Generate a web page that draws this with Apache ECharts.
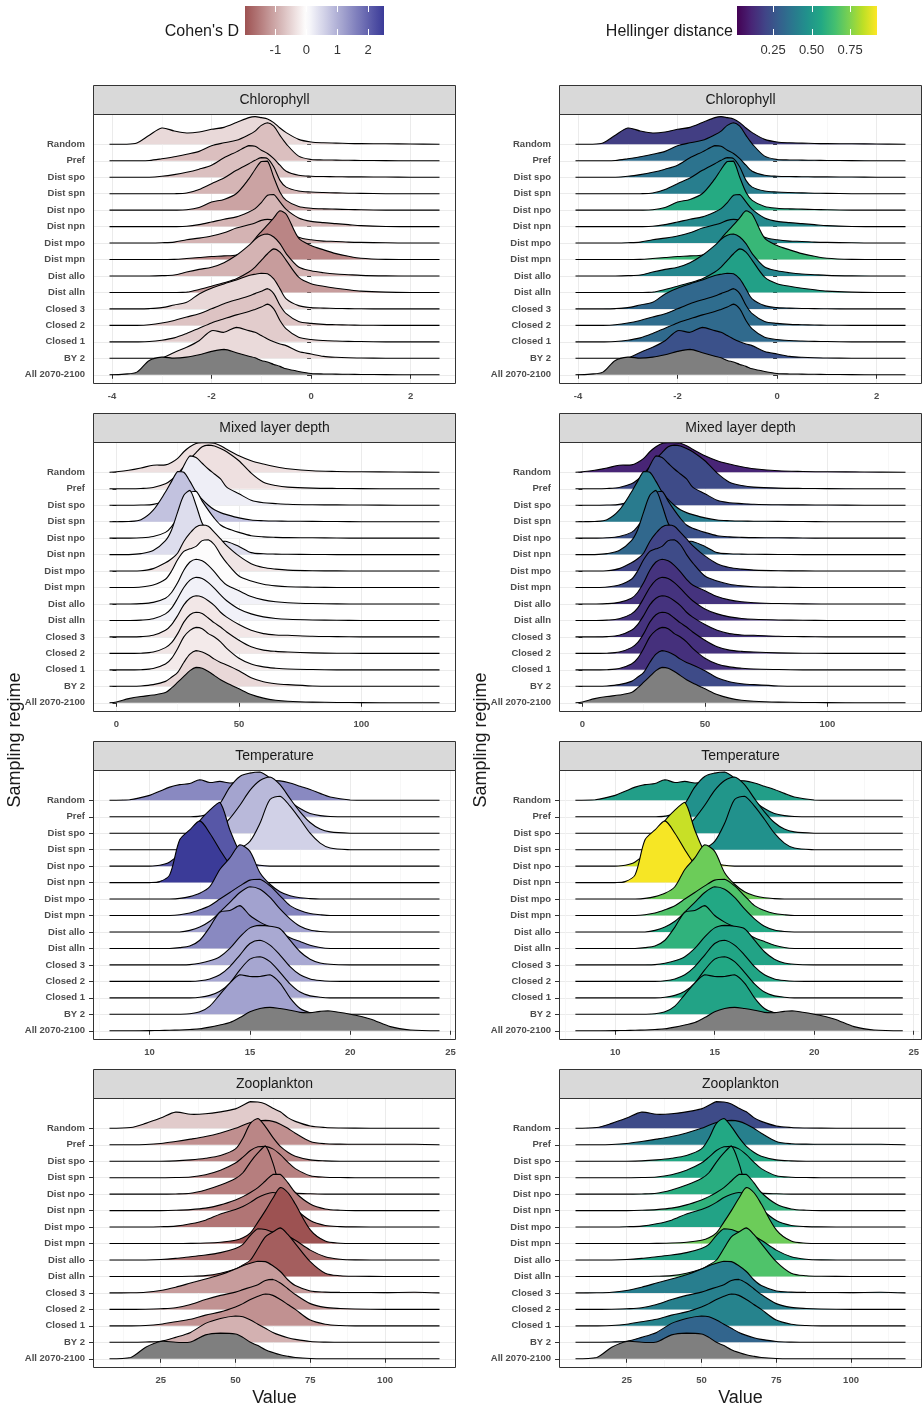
<!DOCTYPE html>
<html><head><meta charset="utf-8">
<script src="https://cdn.jsdelivr.net/npm/echarts@6/dist/echarts.min.js"></script>
<style>html,body{margin:0;padding:0;background:#fff}#c{width:922px;height:1412px}</style>
</head><body><div id="c"></div>
<script>
// ---------------- DATA ----------------
const regimes = ["Random","Pref","Dist spo","Dist spn","Dist npo","Dist npn","Dist mpo","Dist mpn","Dist allo","Dist alln","Closed 3","Closed 2","Closed 1","BY 2","All 2070-2100"];
const variables = ["Chlorophyll","Mixed layer depth","Temperature","Zooplankton"];

// Chlorophyll: x grid and ridge heights (in row units), one row per regime
const chlX = [-4.05,-3.75,-3.5,-3.25,-3.0,-2.75,-2.5,-2.25,-2.0,-1.75,-1.5,-1.25,-1.125,-1.0,-0.875,-0.75,-0.625,-0.5,-0.25,0,0.25,0.5,0.75,1.0,1.5,2.0,2.58];
const chlDensity = [
 [0,0,0.08,0.55,0.99,0.81,0.69,0.75,0.91,1.03,1.32,1.62,1.68,1.62,1.54,1.32,0.99,0.71,0.3,0.14,0.09,0.07,0.05,0.04,0.03,0.02,0],
 [0,0,0,0.02,0.12,0.24,0.4,0.57,0.91,1.09,1.24,1.58,1.8,2.15,2.31,2.1,1.54,1.03,0.28,0.08,0.05,0.04,0.03,0.02,0.01,0,0],
 [0,0,0,0,0.06,0.16,0.3,0.49,0.73,1.18,1.54,1.92,1.88,1.64,1.44,1.13,0.73,0.36,0.12,0.06,0.04,0.03,0.02,0.02,0.01,0,0],
 [0,0,0,0,0,0,0.04,0.26,0.61,0.95,1.42,1.82,2.03,2.19,2.13,1.62,0.81,0.4,0.16,0.1,0.07,0.05,0.03,0.02,0,0,0],
 [0,0,0,0,0,0,0.02,0.16,0.49,0.65,1.01,1.9,2.47,2.96,2.98,2.0,1.09,0.59,0.22,0.12,0.08,0.06,0.04,0.02,0,0,0],
 [0,0,0,0,0,0,0.02,0.12,0.28,0.45,0.59,0.89,1.09,1.46,1.9,1.95,1.5,1.05,0.53,0.32,0.24,0.18,0.12,0.06,0.01,0,0],
 [0,0,0,0,0.02,0.06,0.2,0.3,0.43,0.63,0.91,1.11,1.22,1.38,1.44,1.38,1.18,0.87,0.36,0.2,0.12,0.1,0.06,0.04,0.02,0,0],
 [0,0,0,0,0,0.01,0.06,0.12,0.18,0.22,0.28,0.65,1.26,1.7,2.1,2.53,2.96,2.75,1.3,0.85,0.59,0.36,0.2,0.08,0.01,0,0],
 [0,0,0,0,0.02,0.06,0.24,0.4,0.53,0.81,1.26,1.86,2.23,2.47,2.55,2.37,1.97,1.36,0.55,0.32,0.2,0.12,0.08,0.04,0.01,0,0],
 [0,0,0,0,0,0,0.02,0.18,0.38,0.59,0.83,1.24,1.54,1.95,2.35,2.65,2.45,1.95,0.93,0.53,0.38,0.26,0.16,0.08,0.02,0,0],
 [0,0,0,0.02,0.08,0.24,0.4,0.91,1.26,1.52,1.76,2.03,2.11,2.17,2.13,1.82,1.22,0.61,0.2,0.08,0.05,0.03,0.02,0.01,0,0,0],
 [0,0,0,0.04,0.14,0.3,0.51,0.71,1.01,1.32,1.56,1.78,1.93,2.07,2.23,1.93,1.22,0.71,0.24,0.12,0.06,0.04,0.02,0.01,0,0,0],
 [0,0,0,0.02,0.1,0.24,0.51,0.83,1.15,1.4,1.64,1.84,1.97,2.11,2.29,2.0,1.3,0.79,0.28,0.14,0.08,0.05,0.03,0.02,0,0,0],
 [0,0,0,0,0.02,0.36,0.67,1.07,1.68,1.58,1.88,1.68,1.58,1.38,1.18,1.01,0.87,0.77,0.41,0.26,0.12,0.06,0.03,0.02,0,0,0],
 [0,0.04,0.16,0.87,1.07,1.01,1.07,1.22,1.42,1.54,1.34,1.13,1.03,0.87,0.77,0.63,0.51,0.36,0.2,0.08,0.05,0.04,0.03,0.02,0.01,0,0]
];

// Mixed layer depth
const mldX = [-2.85,0,5,10,15,20,22.5,25,27.5,30,32.5,35,37.5,40,42.5,45,50,55,60,65,70,80,90,100,115,131.9];
const mldDensity = [
 [0,0.03,0.12,0.26,0.43,0.45,0.6,0.85,1.25,1.55,1.75,1.8,1.8,1.76,1.62,1.4,1.0,0.7,0.5,0.34,0.22,0.09,0.05,0.03,0.02,0],
 [0,0,0,0.02,0.08,0.3,0.55,0.9,1.35,1.8,2.2,2.55,2.65,2.6,2.45,2.25,1.7,0.95,0.4,0.2,0.1,0.04,0.02,0.01,0,0],
 [0,0,0,0.01,0.05,0.3,0.8,1.6,2.4,3.0,2.9,2.55,2.2,1.9,1.6,1.1,0.7,0.3,0.15,0.1,0.06,0.03,0.02,0.01,0,0],
 [0,0,0.01,0.12,0.7,1.8,2.45,3.05,3.0,2.45,1.8,1.35,1.0,0.72,0.55,0.43,0.23,0.1,0.06,0.04,0.03,0.02,0.01,0,0,0],
 [0,0,0,0.02,0.1,0.35,0.7,1.3,2.1,2.75,2.85,2.25,1.7,1.2,0.8,0.6,0.35,0.15,0.08,0.05,0.03,0.02,0.01,0,0,0],
 [0,0,0,0.06,0.25,0.85,1.5,2.6,3.6,3.9,3.0,1.9,1.3,0.95,0.8,0.8,0.5,0.12,0.05,0.03,0.02,0.01,0,0,0,0],
 [0,0,0,0.02,0.15,0.5,0.75,1.1,1.8,2.3,2.68,2.8,2.72,2.35,1.95,1.55,0.92,0.45,0.22,0.12,0.06,0.02,0.01,0,0,0],
 [0,0,0,0.03,0.15,0.5,1.0,1.7,2.2,2.35,2.5,2.85,2.9,2.6,2.0,1.5,0.7,0.4,0.2,0.1,0.05,0.02,0,0,0,0],
 [0,0,0,0.02,0.1,0.35,0.7,1.3,2.05,2.55,2.72,2.62,2.35,1.95,1.5,1.15,0.8,0.45,0.25,0.14,0.08,0.03,0.01,0,0,0],
 [0,0,0,0.02,0.1,0.4,0.75,1.35,2.0,2.45,2.62,2.55,2.3,1.95,1.55,1.2,0.7,0.4,0.22,0.12,0.07,0.03,0.01,0,0,0],
 [0,0,0,0.02,0.1,0.4,0.75,1.3,1.95,2.35,2.5,2.42,2.2,1.9,1.5,1.2,0.75,0.4,0.2,0.12,0.1,0.04,0.02,0,0,0],
 [0,0,0,0.01,0.08,0.35,0.65,1.2,1.9,2.35,2.5,2.42,2.15,1.85,1.6,1.3,0.8,0.4,0.2,0.12,0.08,0.03,0.01,0,0,0],
 [0,0,0,0.01,0.08,0.35,0.7,1.3,2.0,2.4,2.58,2.5,2.2,2.0,1.7,1.3,0.7,0.35,0.18,0.1,0.05,0.02,0,0,0,0],
 [0,0,0,0.02,0.1,0.3,0.55,0.85,1.45,1.95,2.17,2.08,1.9,1.65,1.45,1.3,0.95,0.52,0.28,0.16,0.1,0.02,0,0,0,0],
 [0,0.05,0.25,0.38,0.47,0.62,0.9,1.25,1.6,1.95,2.15,2.1,1.9,1.65,1.4,1.2,0.85,0.5,0.28,0.15,0.09,0.04,0.02,0.01,0,0]
];

// Temperature
const tempX = [8.0,9,10,10.5,11,11.5,12,12.5,13,13.5,14,14.5,15,15.5,16,16.5,17,17.5,18,18.5,19,20,21,22,23,24.45];
const tempDensity = [
 [0,0.03,0.3,0.55,0.8,0.95,1.02,1.25,1.08,1.15,1.05,1.1,1.15,1.2,1.2,1.18,1.05,0.85,0.65,0.42,0.2,0.02,0,0,0,0],
 [0,0,0,0,0,0,0,0.04,0.2,0.8,1.8,2.45,2.65,2.72,2.35,1.75,0.95,0.5,0.2,0.07,0.02,0,0,0,0,0],
 [0,0,0,0,0,0,0,0,0.05,0.3,0.9,1.7,2.6,3.2,3.42,2.95,2.1,1.3,0.65,0.25,0.08,0,0,0,0,0],
 [0,0,0,0,0,0,0,0,0,0,0,0.1,0.5,1.6,3.05,3.25,2.65,1.85,1.0,0.4,0.1,0,0,0,0,0],
 [0,0,0,0.05,0.25,0.8,1.7,2.75,3.4,3.88,2.2,0.85,0.2,0.05,0,0,0,0,0,0,0,0,0,0,0,0],
 [0,0,0,0.06,0.47,2.6,3.2,3.75,3.0,2.0,1.1,0.5,0.18,0.05,0,0,0,0,0,0,0,0,0,0,0,0],
 [0,0,0,0,0,0.04,0.15,0.35,0.75,1.8,2.5,3.3,2.9,1.6,0.9,0.45,0.2,0.08,0.03,0,0,0,0,0,0,0],
 [0,0,0,0,0,0.05,0.15,0.35,0.6,1.0,1.4,1.8,2.15,2.2,1.8,1.2,0.6,0.3,0.12,0.05,0,0,0,0,0,0],
 [0,0,0,0,0,0,0.1,0.3,0.65,1.2,1.8,2.4,2.75,2.6,2.1,1.4,0.8,0.35,0.12,0.03,0,0,0,0,0,0],
 [0,0,0,0,0,0.05,0.15,0.5,1.3,2.2,2.3,2.6,2.0,1.6,1.3,1.0,0.65,0.42,0.2,0.06,0,0,0,0,0,0],
 [0,0,0,0,0,0,0.02,0.1,0.25,0.5,1.0,1.7,2.25,2.4,2.35,2.2,1.5,0.8,0.35,0.12,0.04,0,0,0,0,0],
 [0,0,0,0,0,0,0,0.04,0.15,0.4,0.9,1.6,2.3,2.5,2.2,1.6,0.9,0.4,0.15,0.05,0.01,0,0,0,0,0],
 [0,0,0,0,0,0,0,0.04,0.15,0.4,0.9,1.7,2.35,2.5,2.2,1.55,0.85,0.35,0.12,0.04,0,0,0,0,0,0],
 [0,0,0,0,0,0,0.03,0.15,0.5,1.2,1.9,2.4,2.3,2.3,2.4,1.9,1.0,0.35,0.1,0.03,0,0,0,0,0,0],
 [0,0,0.01,0.02,0.03,0.05,0.08,0.12,0.22,0.35,0.5,0.8,1.15,1.35,1.42,1.35,1.25,1.12,1.1,1.18,1.2,1.0,0.72,0.25,0.05,0]
];

// Zooplankton
const zooX = [7.9,15,20,25,30,35,40,45,50,52.5,55,57.5,60,62.5,65,67.5,70,75,80,85,90,100,110,118.2];
const zooDensity = [
 [0,0.05,0.3,0.62,0.98,0.85,0.88,1.0,1.18,1.4,1.62,1.6,1.48,1.22,1.0,0.65,0.42,0.14,0.05,0.02,0.01,0,0,0],
 [0,0,0.02,0.08,0.2,0.34,0.5,0.72,1.0,1.18,1.35,1.45,1.48,1.42,1.25,1.0,0.7,0.2,0.06,0.04,0.03,0.03,0.03,0],
 [0,0,0,0,0.02,0.08,0.18,0.35,0.75,1.4,2.3,2.6,2.1,1.45,0.9,0.55,0.3,0.08,0.02,0,0,0,0,0],
 [0,0,0,0,0.01,0.04,0.18,0.45,0.89,1.25,1.65,1.88,1.9,1.75,1.4,0.95,0.55,0.12,0.03,0.01,0,0,0,0],
 [0,0,0,0,0.01,0.05,0.25,0.55,0.95,1.3,1.95,2.5,2.92,1.9,0.45,0.15,0.06,0.02,0,0,0,0,0,0],
 [0,0,0,0,0.02,0.06,0.15,0.35,0.65,0.85,1.1,1.4,1.8,2.2,2.2,1.7,1.1,0.4,0.1,0.02,0,0,0,0],
 [0,0,0,0.02,0.06,0.2,0.42,0.8,1.07,1.25,1.5,1.8,2.0,2.1,2.0,1.6,1.1,0.4,0.1,0.03,0.01,0,0,0],
 [0,0,0,0,0,0.01,0.03,0.08,0.2,0.35,0.65,1.3,2.0,2.75,3.4,3.1,2.4,0.83,0.15,0.02,0,0,0,0],
 [0,0,0,0.03,0.1,0.2,0.3,0.45,0.7,0.95,1.5,1.9,1.85,1.7,1.6,1.45,1.2,0.6,0.2,0.05,0.01,0,0,0],
 [0,0,0,0,0,0.01,0.05,0.2,0.45,0.7,1.0,1.7,2.4,2.7,2.95,2.55,2.0,0.9,0.2,0.04,0.01,0,0,0],
 [0,0.01,0.04,0.15,0.35,0.6,0.85,1.1,1.45,1.65,1.8,1.92,1.9,1.65,1.3,0.8,0.45,0.12,0.05,0.03,0.03,0.02,0.04,0],
 [0,0,0.01,0.04,0.1,0.3,0.6,0.85,1.05,1.2,1.35,1.5,1.75,1.82,1.6,1.25,0.9,0.35,0.12,0.05,0.02,0,0,0],
 [0,0,0.02,0.1,0.25,0.4,0.65,0.85,1.15,1.35,1.6,1.8,1.93,1.85,1.6,1.3,1.0,0.35,0.1,0.02,0,0,0,0],
 [0,0,0.02,0.06,0.3,0.6,1.15,1.45,1.6,1.55,1.35,1.1,0.85,0.6,0.42,0.28,0.18,0.05,0.01,0,0,0,0,0],
 [0,0.08,0.7,1.05,1.0,1.02,1.45,1.56,1.5,1.3,1.0,0.8,0.55,0.38,0.24,0.15,0.08,0.02,0,0,0,0,0,0]
];

// Fill values per regime (null = reference distribution, drawn grey)
const chlCohen  = [-0.44,-0.73,-0.72,-0.85,-1.05,-0.85,-0.87,-1.4,-0.87,-1.13,-0.46,-0.69,-0.58,-0.42,null];
const mldCohen  = [-0.35,-0.35,0.22,0.78,0.05,0.43,-0.3,-0.04,0.17,0.18,-0.27,-0.3,-0.24,-0.45,null];
const tempCohen = [1.5,1.16,0.89,0.59,2.14,2.5,1.67,1.58,1.18,1.5,1.1,1.13,1.14,1.18,null];
const zooCohen  = [-0.6,-1.28,-1.39,-1.44,-1.48,-1.48,-1.58,-1.98,-1.63,-1.84,-1.13,-1.25,-1.26,-0.89,null];
const chlHellinger  = [0.18,0.34,0.36,0.40,0.57,0.44,0.44,0.62,0.43,0.53,0.32,0.34,0.33,0.24,null];
const mldHellinger  = [0.11,0.22,0.22,0.39,0.24,0.32,0.2,0.22,0.15,0.15,0.15,0.14,0.14,0.22,null];
const tempHellinger = [0.52,0.47,0.49,0.47,0.85,0.915,0.72,0.67,0.56,0.6,0.54,0.55,0.56,0.54,null];
const zooHellinger  = [0.22,0.41,0.56,0.56,0.58,0.6,0.54,0.72,0.54,0.67,0.4,0.41,0.42,0.31,null];

// Axis ticks and legend breaks
const chlTicks = [-4,-2,0,2];
const mldTicks = [0,50,100];
const tempTicks = [10,15,20,25];
const zooTicks = [25,50,75,100];
const cohenBreaks = [-1,0,1,2];
const cohenLimits = [-1.98, 2.51];
const hellBreaks = [0.25,0.5,0.75];
const hellLimits = [0.016, 0.925];

// ---------------- STYLE / SCALES ----------------
const FONT = '"Liberation Sans", Arial, "DejaVu Sans", sans-serif';
function hex(h){h=h.replace('#','');return [parseInt(h.slice(0,2),16),parseInt(h.slice(2,4),16),parseInt(h.slice(4,6),16)];}
function mix(a,b,t){const A=hex(a),B=hex(b);const c=A.map((v,i)=>Math.round(v+(B[i]-v)*t));return 'rgb('+c.join(',')+')';}
const COHEN_LOW='#832424', COHEN_MID='#ffffff', COHEN_HIGH='#3a3a98', COHEN_HALF=2.51;
function cohenColor(v){ if(v<0) return mix(COHEN_MID,COHEN_LOW,Math.min(1,-v/COHEN_HALF)); return mix(COHEN_MID,COHEN_HIGH,Math.min(1,v/COHEN_HALF)); }
const VIRIDIS=['#440154','#482475','#414487','#355f8d','#2a788e','#21918c','#22a884','#44bf70','#7ad151','#bddf26','#fde725'];
function viridisColor(h){ let t=(h-hellLimits[0])/(hellLimits[1]-hellLimits[0]); t=Math.max(0,Math.min(1,t)); const p=t*(VIRIDIS.length-1); const i=Math.min(VIRIDIS.length-2,Math.floor(p)); return mix(VIRIDIS[i],VIRIDIS[i+1],p-i); }
const GREY = '#7f7f7f';

const panels = [
  {xs: chlX, dens: chlDensity, ticks: chlTicks, step: 2, fill:[chlCohen, chlHellinger]},
  {xs: mldX, dens: mldDensity, ticks: mldTicks, step: 50, fill:[mldCohen, mldHellinger]},
  {xs: tempX, dens: tempDensity, ticks: tempTicks, step: 5, fill:[tempCohen, tempHellinger]},
  {xs: zooX, dens: zooDensity, ticks: zooTicks, step: 25, fill:[zooCohen, zooHellinger]}
];
const colFns = [cohenColor, viridisColor];
const COL_LEFT = [93, 559], ROW_TOP = [115, 443, 771, 1099], PW = 363, PH = 268, STRIP = 29;
const Y_MIN = -0.5, Y_MAX = 15.78;
const baselines = regimes.map((r,i)=>regimes.length-1-i);

const grids=[], xAxes=[], yAxes=[], series=[], graphics=[];

panels.forEach((p, v) => {
  const n = p.xs.length, span = p.xs[n-1]-p.xs[0];
  const lo = p.xs[0]-0.05*span, hi = p.xs[n-1]+0.05*span;
  [0,1].forEach(c => {
    const g = grids.length;
    const left = COL_LEFT[c], top = ROW_TOP[v];
    grids.push({left, top, width: PW, height: PH, containLabel:false, show:false});
    xAxes.push({
      gridIndex:g, type:'value', min:lo, max:hi, minInterval:p.step, maxInterval:p.step,
      axisLine:{show:false},
      axisTick:{show:true, length:4, customValues:p.ticks, lineStyle:{color:'#333', width:1}},
      axisLabel:{customValues:p.ticks, fontSize:9.5, fontWeight:'bold', color:'#4d4d4d', margin:8, fontFamily:FONT},
      splitLine:{show:true, lineStyle:{color:'#ebebeb', width:1}},
      minorTick:{show:false, splitNumber:2},
      minorSplitLine:{show:true, lineStyle:{color:'#f4f4f4', width:0.7}}
    });
    yAxes.push({
      gridIndex:g, type:'value', min:Y_MIN, max:Y_MAX, minInterval:1, maxInterval:1,
      axisLine:{show:false},
      axisTick:{show:true, length:4, customValues:baselines, lineStyle:{color:'#333', width:1}},
      axisLabel:{customValues:baselines, fontSize:9.5, fontWeight:'bold', color:'#4d4d4d', margin:8, fontFamily:FONT,
        formatter:(val)=>{const i=regimes.length-1-Math.round(val); return (Math.abs(val-Math.round(val))<1e-6 && regimes[i])?regimes[i]:'';}},
      splitLine:{show:true, lineStyle:{color:'#ebebeb', width:1}}
    });
    const vals = p.fill[c], fn = colFns[c];
    series.push({
      type:'custom', coordinateSystem:'cartesian2d', xAxisIndex:g, yAxisIndex:g, clip:true, silent:true,
      data: regimes.map((r,i)=>[p.xs[0], baselines[i]]),
      renderItem:(params, api)=>{
        const i = params.dataIndex, base = api.value(1), h = p.dens[i];
        const pts = p.xs.map((x,k)=>api.coord([x, base + h[k]]));
        const fill = vals[i]==null ? GREY : fn(vals[i]);
        const cons = [pts[0].slice(), pts[0].slice()];
        return {type:'group', children:[
          {type:'polygon', shape:{points:pts, smooth:0.3, smoothConstraint:cons}, style:{fill:fill, stroke:null}},
          {type:'polyline', shape:{points:pts, smooth:0.3, smoothConstraint:cons}, style:{stroke:'#000', lineWidth:1.1, fill:null}}
        ]};
      }
    });
    // strip + border
    graphics.push({type:'rect', z:100, shape:{x:left+0.5, y:top-STRIP-0.5, width:PW-1, height:STRIP}, style:{fill:'#d9d9d9', stroke:'#333', lineWidth:1}});
    graphics.push({type:'text', z:101, style:{text:variables[v], x:left+PW/2, y:top-STRIP/2-0.5, align:'center', verticalAlign:'middle', font:'14px '+FONT, fill:'#1a1a1a'}});
    graphics.push({type:'rect', z:100, shape:{x:left+0.5, y:top-0.5, width:PW-1, height:PH+1}, style:{fill:null, stroke:'#333', lineWidth:1}});
  });
});

// Colourbar legends
const legends = [
  {left:245, width:139, lim:cohenLimits, breaks:cohenBreaks, fn:cohenColor, fmt:(x)=>String(x), title:"Cohen's D", titleRight:239},
  {left:737, width:140, lim:hellLimits, breaks:hellBreaks, fn:viridisColor, fmt:(x)=>x.toFixed(2), title:"Hellinger distance", titleRight:733}
];
legends.forEach(L => {
  const g = grids.length;
  grids.push({left:L.left, top:6, width:L.width, height:29, show:false});
  xAxes.push({gridIndex:g, type:'value', min:L.lim[0], max:L.lim[1], axisLine:{show:false}, axisTick:{show:false}, splitLine:{show:false},
    axisLabel:{customValues:L.breaks, formatter:(x)=>L.fmt(x), fontSize:13, color:'#333', margin:9, fontFamily:FONT}});
  yAxes.push({gridIndex:g, type:'value', min:0, max:1, show:false});
  series.push({
    type:'custom', coordinateSystem:'cartesian2d', xAxisIndex:g, yAxisIndex:g, silent:true,
    data:[[L.lim[0],0]],
    renderItem:(params, api)=>{
      const a = api.coord([L.lim[0],0]), b = api.coord([L.lim[1],1]);
      const stops=[]; for(let k=0;k<=30;k++){const v=L.lim[0]+(L.lim[1]-L.lim[0])*k/30; stops.push({offset:k/30, color:L.fn(v)});}
      const kids=[{type:'rect', shape:{x:a[0], y:b[1], width:b[0]-a[0], height:a[1]-b[1]}, style:{fill:new echarts.graphic.LinearGradient(0,0,1,0,stops)}}];
      L.breaks.forEach(br=>{
        const p0=api.coord([br,0]), p1=api.coord([br,1]);
        const x=Math.round(p0[0])+0.5;
        kids.push({type:'line', shape:{x1:x,y1:p1[1],x2:x,y2:p1[1]+6}, style:{stroke:'#fff', lineWidth:1}});
        kids.push({type:'line', shape:{x1:x,y1:p0[1],x2:x,y2:p0[1]-6}, style:{stroke:'#fff', lineWidth:1}});
      });
      return {type:'group', children:kids};
    }
  });
  graphics.push({type:'text', z:101, style:{text:L.title, x:L.titleRight, y:32, align:'right', verticalAlign:'middle', font:'16px '+FONT, fill:'#1a1a1a'}});
});

// Axis titles
[0,1].forEach(c => {
  graphics.push({type:'text', z:101, style:{text:'Value', x:COL_LEFT[c]+PW/2, y:1398, align:'center', verticalAlign:'middle', font:'18px '+FONT, fill:'#1a1a1a'}});
  graphics.push({type:'text', z:101, x:c===0?15:481, y:740, rotation:Math.PI/2, style:{text:'Sampling regime', x:0, y:0, align:'center', verticalAlign:'middle', font:'18px '+FONT, fill:'#1a1a1a'}});
});

const chart = echarts.init(document.getElementById('c'), null, {renderer:'canvas'});
chart.setOption({
  animation:false, backgroundColor:'#fff',
  grid:grids, xAxis:xAxes, yAxis:yAxes, series:series, graphic:{elements:graphics}
});
</script>
</body></html>
